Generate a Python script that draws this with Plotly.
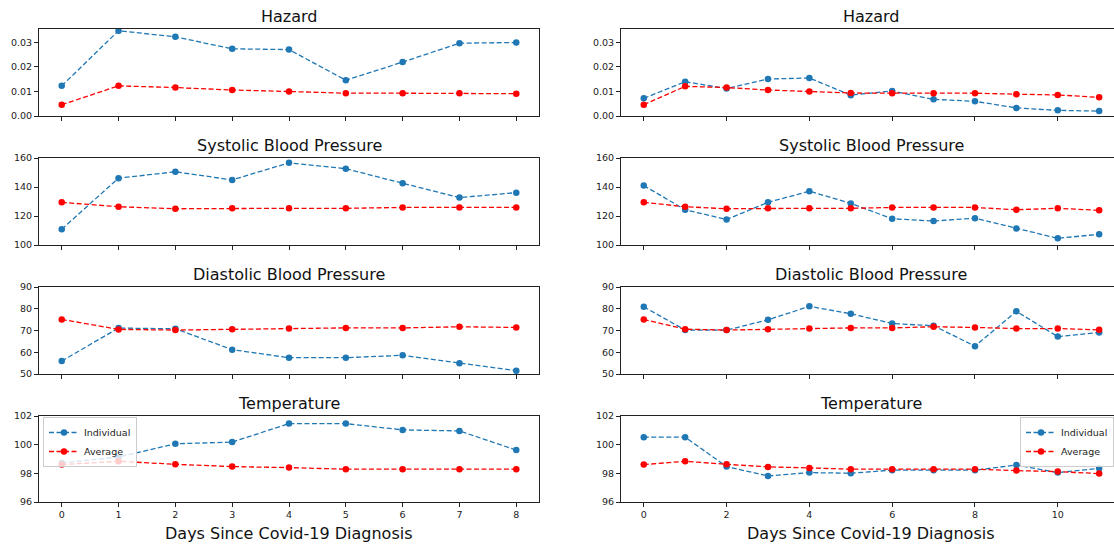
import plotly.graph_objects as go

days_left = list(range(9))
days_right = list(range(12))

haz_ind_left = [0.0123, 0.0348, 0.0323, 0.0274, 0.0271, 0.0146, 0.0220, 0.0297, 0.0300]
haz_avg_left = [0.0046, 0.0123, 0.0116, 0.0106, 0.0100, 0.0093, 0.0093, 0.0093, 0.0091]
haz_ind_right = [0.0072, 0.0140, 0.0112, 0.0151, 0.0155, 0.0085, 0.0102, 0.0068, 0.0060, 0.0033, 0.0023, 0.0020]
haz_avg_right = [0.0046, 0.0121, 0.0116, 0.0106, 0.0100, 0.0094, 0.0093, 0.0093, 0.0093, 0.0089, 0.0086, 0.0076]

sbp_ind_left = [110.9, 146.1, 150.5, 144.9, 156.7, 152.6, 142.6, 132.7, 136.1]
sbp_avg_left = [129.4, 126.4, 125.0, 125.3, 125.3, 125.3, 125.9, 125.9, 125.9]
sbp_ind_right = [141.0, 124.3, 117.6, 129.4, 137.1, 128.7, 118.1, 116.5, 118.5, 111.4, 104.6, 107.4]
sbp_avg_right = [129.4, 126.4, 125.0, 125.3, 125.3, 125.3, 125.9, 125.9, 125.9, 124.3, 125.3, 123.9]

dbp_ind_left = [56.0, 71.1, 70.8, 61.2, 57.5, 57.5, 58.6, 54.9, 51.5]
dbp_avg_left = [75.1, 70.5, 70.2, 70.6, 70.9, 71.2, 71.2, 71.7, 71.4]
dbp_ind_right = [80.9, 70.2, 70.2, 74.9, 81.1, 77.7, 73.2, 72.2, 62.8, 78.8, 67.2, 69.1]
dbp_avg_right = [75.1, 70.6, 70.2, 70.6, 70.9, 71.2, 71.2, 71.7, 71.4, 70.9, 70.9, 70.3]

tmp_ind_left = [98.72, 99.14, 100.06, 100.18, 101.47, 101.47, 101.03, 100.96, 99.62]
tmp_avg_left = [98.61, 98.84, 98.63, 98.47, 98.40, 98.29, 98.29, 98.29, 98.29]
tmp_ind_right = [100.52, 100.52, 98.47, 97.82, 98.05, 98.01, 98.22, 98.22, 98.22, 98.58, 98.05, 98.35]
tmp_avg_right = [98.61, 98.84, 98.63, 98.45, 98.38, 98.29, 98.29, 98.29, 98.29, 98.19, 98.12, 97.98]

titles = ["Hazard", "Systolic Blood Pressure", "Diastolic Blood Pressure", "Temperature"]
y_ranges = [[0, 0.0355], [100, 160], [50, 90], [96, 102]]
y_ticks = [[0, 0.01, 0.02, 0.03], [100, 120, 140, 160], [50, 60, 70, 80, 90], [96, 98, 100, 102]]
y_formats = [".2f", "d", "d", "d"]
x_label = "Days Since Covid-19 Diagnosis"
legend_names = ["Individual", "Average"]

left_data = [(haz_ind_left, haz_avg_left), (sbp_ind_left, sbp_avg_left),
             (dbp_ind_left, dbp_avg_left), (tmp_ind_left, tmp_avg_left)]
right_data = [(haz_ind_right, haz_avg_right), (sbp_ind_right, sbp_avg_right),
              (dbp_ind_right, dbp_avg_right), (tmp_ind_right, tmp_avg_right)]

W, H = 1114, 544
ML, MR, MT, MB = 39, 0, 29, 42
PW, PH = W - ML - MR, H - MT - MB

def px_x(p):
    return (p - ML) / PW

def px_y(p):
    return 1 - (p - MT) / PH

panel_tops = [29, 158, 287, 416]
panel_h = 87
col_x = [(39, 539), (621, 1114)]
col_centers = [289, 871]

BLUE = "#1f77b4"
RED = "#ff0000"
DASH = "5px,2.5px"

fig = go.Figure()
layout = {}
font_tick = dict(family="DejaVu Sans", size=9.5, color="#222222")

for c, (days, data) in enumerate([(days_left, left_data), (days_right, right_data)]):
    for r in range(4):
        idx = r * 2 + c + 1
        xa = "x" if idx == 1 else f"x{idx}"
        ya = "y" if idx == 1 else f"y{idx}"
        ind, avg = data[r]
        leg = "legend" if c == 0 else "legend2"
        show = (r == 3)
        fig.add_trace(go.Scatter(x=days, y=ind, mode="lines+markers", name=legend_names[0],
                                 line=dict(color=BLUE, width=1.3, dash=DASH),
                                 marker=dict(color=BLUE, size=6.5),
                                 xaxis=xa, yaxis=ya, showlegend=show, legend=leg))
        fig.add_trace(go.Scatter(x=days, y=avg, mode="lines+markers", name=legend_names[1],
                                 line=dict(color=RED, width=1.3, dash=DASH),
                                 marker=dict(color=RED, size=6.5),
                                 xaxis=xa, yaxis=ya, showlegend=show, legend=leg))
        top = panel_tops[r]
        dom_y = [max(0, px_y(top + panel_h)), min(1, px_y(top))]
        dom_x = [px_x(col_x[c][0]), min(1, px_x(col_x[c][1]))]
        if c == 0:
            xr = [-0.4, 8.4]
            xt = list(range(0, 9))
        else:
            xr = [-0.55, -0.55 + (1114 - 621) / 41.4]
            xt = list(range(0, 12, 2))
        layout["xaxis" if idx == 1 else f"xaxis{idx}"] = dict(
            domain=dom_x, range=xr, anchor=ya, tickmode="array", tickvals=xt,
            showticklabels=(r == 3), ticks="outside", ticklen=4, tickwidth=1, tickcolor="#222222",
            showline=True, linecolor="#222222", linewidth=1, mirror=True, showgrid=False,
            zeroline=False, tickfont=font_tick, fixedrange=True)
        layout["yaxis" if idx == 1 else f"yaxis{idx}"] = dict(
            domain=dom_y, range=y_ranges[r], anchor=xa, tickmode="array", tickvals=y_ticks[r],
            tickformat=y_formats[r], ticks="outside", ticklen=4, tickwidth=1, tickcolor="#222222",
            showline=True, linecolor="#222222", linewidth=1, mirror=(c == 0), showgrid=False,
            zeroline=False, tickfont=font_tick, fixedrange=True)

annotations = []
for c in range(2):
    for r in range(4):
        annotations.append(dict(text=titles[r], x=px_x(col_centers[c]), y=px_y(panel_tops[r]),
                                xref="paper", yref="paper", xanchor="center", yanchor="bottom",
                                yshift=1, showarrow=False,
                                font=dict(family="DejaVu Sans", size=16, color="#111111")))
    annotations.append(dict(text=x_label, x=px_x(col_centers[c]), y=px_y(533),
                            xref="paper", yref="paper", xanchor="center", yanchor="middle",
                            showarrow=False, font=dict(family="DejaVu Sans", size=16, color="#111111")))

legend_common = dict(bgcolor="rgba(255,255,255,0.8)", bordercolor="#cccccc", borderwidth=1,
                     font=dict(family="DejaVu Sans", size=9.5, color="#222222"),
                     tracegroupgap=0, itemwidth=30)

fig.update_layout(
    width=W, height=H,
    margin=dict(l=ML, r=MR, t=MT, b=MB, autoexpand=False),
    paper_bgcolor="white", plot_bgcolor="white",
    showlegend=True,
    hovermode=False,
    annotations=annotations,
    legend=dict(x=px_x(43), y=px_y(417), xanchor="left", yanchor="top", **legend_common),
    legend2=dict(x=1.0, y=px_y(417), xanchor="right", yanchor="top", **legend_common),
    **layout,
)

fig.write_html("out.html", config={"displayModeBar": False, "staticPlot": True},
               post_script="document.body.style.margin='0';document.body.style.overflow='hidden';")
